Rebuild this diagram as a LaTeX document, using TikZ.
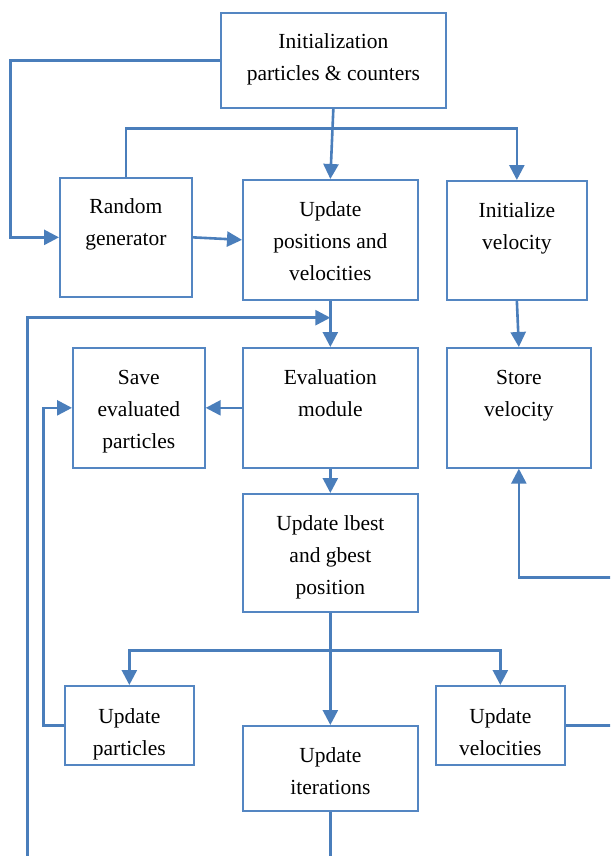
\documentclass[tikz,border=0pt]{standalone}
\usepackage{fontspec}
\setmainfont{Liberation Serif}
\usetikzlibrary{arrows.meta,calc}
\definecolor{lineblue}{RGB}{74,126,187}
\definecolor{boxblue}{RGB}{84,134,194}
\tikzset{
  box/.style={draw=boxblue, line width=1.7pt, inner sep=0pt, anchor=north west},
  txt/.style={align=center, inner sep=0pt, anchor=base, font=\fontsize{21.5}{32}\selectfont},
  arr/.style={draw=lineblue, line width=2.6pt, -{Triangle[length=15pt,width=15pt]}},
  ln/.style={draw=lineblue, line width=2.6pt}
}
\begin{document}
\begin{tikzpicture}[x=1pt,y=-1pt]
\useasboundingbox (0,0) rectangle (610,856);
\clip (0,0) rectangle (610,856);
\fill[white] (0,0) rectangle (610,856);
% boxes
\node[box, minimum width=225pt, minimum height=95pt] (init) at (220,12) {};
\node[box, minimum width=132pt, minimum height=119pt] (rand) at (59,177) {};
\node[box, minimum width=175pt, minimum height=120pt] (upd) at (242,179) {};
\node[box, minimum width=140pt, minimum height=119pt] (ivel) at (446,180) {};
\node[box, minimum width=132pt, minimum height=120pt] (save) at (72,347) {};
\node[box, minimum width=175pt, minimum height=120pt] (eval) at (242,347) {};
\node[box, minimum width=144pt, minimum height=120pt] (store) at (446,347) {};
\node[box, minimum width=175pt, minimum height=118pt] (lbest) at (242,493) {};
\node[box, minimum width=129pt, minimum height=79pt] (upart) at (64,685) {};
\node[box, minimum width=175pt, minimum height=85pt] (iter) at (242,725) {};
\node[box, minimum width=129pt, minimum height=79pt] (uvel) at (435,685) {};
% texts (anchor base = baseline of last line)
\node[txt] (init-t) at ($(init.north)+(0,68.5)$) {Initialization\\particles \& counters};
\node[txt] (rand-t) at ($(rand.north)+(0,68.5)$) {Random\\generator};
\node[txt] (upd-t) at ($(upd.north)+(0,101)$) {Update\\positions and\\velocities};
\node[txt] (ivel-t) at ($(ivel.north)+(0,69)$) {Initialize\\velocity};
\node[txt] (save-t) at ($(save.north)+(0,101)$) {Save\\evaluated\\particles};
\node[txt] (eval-t) at ($(eval.north)+(0,69)$) {Evaluation\\module};
\node[txt] (store-t) at ($(store.north)+(0,69)$) {Store\\velocity};
\node[txt] (lbest-t) at ($(lbest.north)+(0,101)$) {Update lbest\\and gbest\\position};
\node[txt] (upart-t) at ($(upart.north)+(0,70)$) {Update\\particles};
\node[txt] (iter-t) at ($(iter.north)+(0,69)$) {Update\\iterations};
\node[txt] (uvel-t) at ($(uvel.north)+(0,70)$) {Update\\velocities};
% connectors
\draw[arr] (init.west) -- ++(-209.5,0) |- (rand.west);
\draw[arr] (rand.north) |- ($(ivel.north)+(0,-51.7)$) -- (ivel.north);
\draw[arr] (init.south) -- (upd.north);
\draw[arr] (rand.east) -- (upd.west);
\coordinate (loopin) at ($(upd.south)+(0,17)$);
\draw[arr] (upd.south) -- (eval.north);
\draw[arr] (iter.south) -- ++(0,80) -| ($(loopin)+(-302.6,0)$) -- (loopin);
\draw[arr] (eval.west) -- (save.east);
\draw[arr] (eval.south) -- (lbest.north);
\draw[arr] (ivel.south) -- (store.north);
\draw[ln] (lbest.south) -- ++(0,37.6) coordinate (split);
\draw[arr] (split) -| (upart.north);
\draw[arr] (split) -| (uvel.north);
\draw[arr] (lbest.south) -- (iter.north);
\draw[arr] (upart.west) -- ++(-20.8,0) |- (save.west);
\draw[arr] (uvel.east) -- ++(60,0) |- ($(store.south)+(0,108.7)$) -- (store.south);
\end{tikzpicture}
\end{document}
